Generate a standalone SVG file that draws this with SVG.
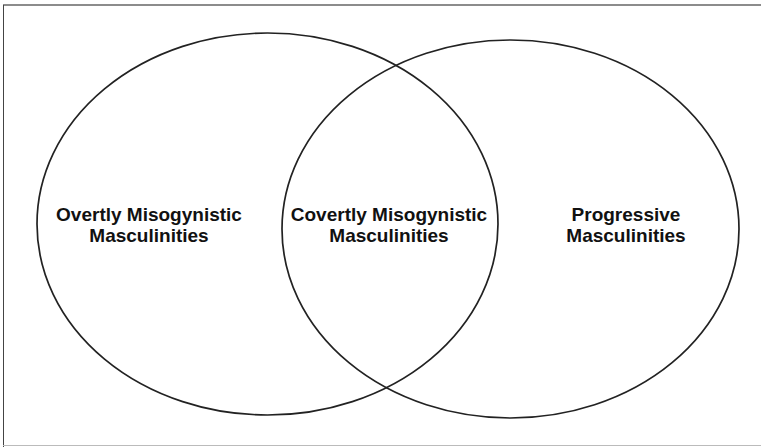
<svg xmlns="http://www.w3.org/2000/svg" width="761" height="447" viewBox="0 0 761 447">
<style>
.set{fill:none;stroke:#222;stroke-width:1.7}
.lbl{font-family:"Liberation Sans",Arial,sans-serif;font-weight:bold;font-size:19px;fill:#111;text-anchor:middle}
</style>
<rect width="761" height="447" fill="#fff"/>
<g id="frame">
<line x1="3" y1="5" x2="761" y2="5" stroke="#666" stroke-width="1.5"/>
<line x1="3.5" y1="5" x2="3.5" y2="447" stroke="#444" stroke-width="1"/>
<line x1="3" y1="445.5" x2="761" y2="445.5" stroke="#bbb" stroke-width="1"/>
</g>
<g id="overt">
<ellipse class="set" cx="267.5" cy="224" rx="230.5" ry="191"/>
<text class="lbl" x="149" y="221">Overtly Misogynistic</text>
<text class="lbl" x="149" y="242">Masculinities</text>
</g>
<g id="progressive">
<ellipse class="set" cx="510.5" cy="229" rx="228.5" ry="189"/>
<text class="lbl" x="626" y="221">Progressive</text>
<text class="lbl" x="626" y="242">Masculinities</text>
</g>
<g id="covert">
<text class="lbl" x="389" y="221">Covertly Misogynistic</text>
<text class="lbl" x="389" y="242">Masculinities</text>
</g>
<g id="connectors"></g>
</svg>
